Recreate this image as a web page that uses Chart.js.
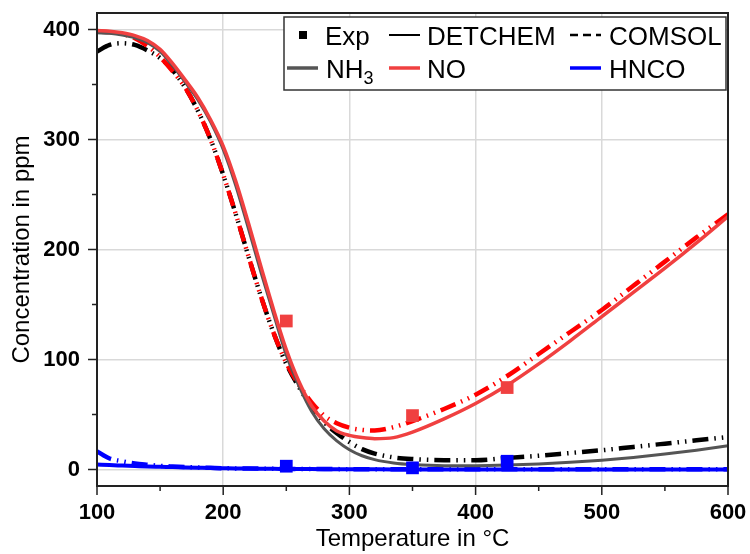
<!DOCTYPE html>
<html>
<head>
<meta charset="utf-8">
<script src="https://cdn.jsdelivr.net/npm/chart.js@4.4.0/dist/chart.umd.min.js"></script>
<style>
  body { margin: 0; background: #fff; }
</style>
</head>
<body>
<canvas id="chart" width="750" height="554"></canvas>
<script>
// Temperature grid of the simulated curves (°C)
const simTemps = [100, 110, 120, 130, 140, 150, 160, 170, 180, 190, 200, 210, 220, 230, 240, 250, 260, 270, 280, 290,
    300, 310, 320, 335, 350, 375, 400, 425, 450, 475, 500, 525, 550, 575, 600];

// DETCHEM (solid lines), ppm
const nh3Detchem = [397, 396.5, 395, 392.5, 388, 380, 367, 352, 336, 316, 291, 258, 219, 179, 141, 104, 76, 53, 37, 26,
    18, 12.5, 9, 6, 4.5, 3.5, 3.5, 4, 5, 6.5, 8.5, 11, 14, 17.5, 21.5];
const noDetchem = [399, 398.5, 397, 394.5, 390, 382, 369, 354, 338, 318, 294, 262, 224, 184, 145, 109, 80, 58, 44, 35,
    31, 29, 28, 29, 34, 46, 60, 76.5, 96, 117, 139, 161, 183, 206, 230];
const hncoDetchem = [4.5, 4, 3.6, 3.2, 2.8, 2.5, 2.2, 1.9, 1.6, 1.3, 1.1, 0.9, 0.8, 0.7, 0.6, 0.5, 0.4, 0.35, 0.3, 0.25,
    0.2, 0.2, 0.15, 0.1, 0.1, 0.1, 0.1, 0.1, 0.1, 0.1, 0.1, 0.1, 0.1, 0.1, 0.1];

// COMSOL (dashed lines), ppm
const nh3Comsol = [380, 386, 387.5, 386, 381, 374, 363, 347, 326, 300, 268, 232, 194, 157, 124, 96, 75, 57, 43, 33,
    25, 18.5, 14.5, 11, 9.5, 8.5, 8.5, 10.5, 12.5, 15, 17.5, 20.5, 23.5, 26.5, 29.5];
const noComsol = [398, 397.5, 396, 392, 385, 375, 362, 347, 326, 300, 268, 232, 194, 157, 124, 97, 77, 61, 49, 42,
    38, 36, 35.5, 38.5, 44, 55, 68, 85, 105, 125, 145, 167, 189, 211, 232];
const hncoComsol = [16.5, 10, 7.5, 5.5, 4.3, 3.3, 2.7, 2.2, 1.8, 1.5, 1.2, 1, 0.9, 0.8, 0.7, 0.6, 0.5, 0.45, 0.4, 0.35,
    0.3, 0.3, 0.25, 0.2, 0.2, 0.2, 0.2, 0.2, 0.2, 0.2, 0.2, 0.2, 0.2, 0.2, 0.2];

// Experimental points
const expTemps = [250, 350, 425];
const expNO = [135, 49, 74.5];
const expHNCO = [3, 1.5, 7.5];

// Axis ticks
const xTicks = [100, 200, 300, 400, 500, 600];
const xMinorTicks = [150, 250, 350, 450, 550];
const yTicks = [0, 100, 200, 300, 400];
const yMinorTicks = [50, 150, 250, 350];

const FONT = '"Liberation Sans", Arial, sans-serif';
const COMSOL_DASH = [16, 6, 1.5, 6, 1.5, 6];

const colors = {
    nh3: '#555555',
    no: 'rgb(240, 64, 64)',
    noDash: '#ff0000',
    hnco: '#0000ff',
    black: '#000000'
};

function toPoints(xs, ys) {
    return xs.map((x, i) => ({ x: x, y: ys[i] }));
}

function lineSet(label, values, color, width, dash) {
    return {
        label: label,
        data: toPoints(simTemps, values),
        borderColor: color,
        borderWidth: width,
        borderDash: dash || [],
        pointRadius: 0,
        cubicInterpolationMode: 'monotone',
        fill: false
    };
}

function expSet(label, values, color) {
    return {
        label: label,
        data: toPoints(expTemps, values),
        showLine: false,
        pointStyle: 'rect',
        pointRadius: 9,
        pointBackgroundColor: color,
        pointBorderWidth: 0
    };
}

// keep the plot box where the reference has it (no extra room for edge labels)
function noEdgePadding(s) {
    s.paddingTop = 0;
    s.paddingBottom = 0;
    s.paddingLeft = 0;
    s.paddingRight = 0;
}

// Frame, minor/major ticks and the two-row legend
const decorPlugin = {
    id: 'decor',
    afterDraw(chart) {
        const ctx = chart.ctx;
        const area = chart.chartArea;
        const xs = chart.scales.x;
        const ys = chart.scales.y;
        ctx.save();

        // ticks
        ctx.strokeStyle = '#222';
        ctx.lineWidth = 1.5;
        ctx.beginPath();
        xTicks.forEach(v => { const p = xs.getPixelForValue(v); ctx.moveTo(p, area.bottom); ctx.lineTo(p, area.bottom + 9); });
        xMinorTicks.forEach(v => { const p = xs.getPixelForValue(v); ctx.moveTo(p, area.bottom); ctx.lineTo(p, area.bottom + 5); });
        yTicks.forEach(v => { const p = ys.getPixelForValue(v); ctx.moveTo(area.left, p); ctx.lineTo(area.left - 9, p); });
        yMinorTicks.forEach(v => { const p = ys.getPixelForValue(v); ctx.moveTo(area.left, p); ctx.lineTo(area.left - 5, p); });
        ctx.stroke();

        // frame
        ctx.lineWidth = 2;
        ctx.strokeRect(area.left, area.top, area.right - area.left, area.bottom - area.top);

        // legend box
        const bw = 442, bh = 73;
        const bx = area.right - 2 - bw;
        const by = area.top + 4;
        ctx.fillStyle = '#fff';
        ctx.fillRect(bx, by, bw, bh);
        ctx.strokeStyle = '#333';
        ctx.lineWidth = 1.5;
        ctx.strokeRect(bx, by, bw, bh);

        const r1 = by + 18, r2 = by + 51;
        const sample = (x0, y, color, width, dash) => {
            ctx.beginPath();
            ctx.setLineDash(dash || []);
            ctx.strokeStyle = color;
            ctx.lineWidth = width;
            ctx.moveTo(bx + x0, y);
            ctx.lineTo(bx + x0 + 31, y);
            ctx.stroke();
            ctx.setLineDash([]);
        };

        ctx.fillStyle = '#000';
        ctx.fillRect(bx + 15, r1 - 4, 8, 8);
        sample(105, r1, colors.black, 2);
        sample(286, r1, colors.black, 2.5, [8, 5]);
        sample(3, r2, colors.nh3, 3.5);
        sample(105, r2, colors.no, 3.5);
        sample(286, r2, colors.hnco, 3.5);

        ctx.fillStyle = '#000';
        ctx.textBaseline = 'alphabetic';
        ctx.textAlign = 'left';
        ctx.font = '26px ' + FONT;
        ctx.fillText('Exp', bx + 41, r1 + 10);
        ctx.fillText('DETCHEM', bx + 143, r1 + 10);
        ctx.fillText('COMSOL', bx + 325, r1 + 10);
        ctx.fillText('NH', bx + 42, r2 + 10);
        const nhW = ctx.measureText('NH').width;
        ctx.fillText('NO', bx + 143, r2 + 10);
        ctx.fillText('HNCO', bx + 325, r2 + 10);
        ctx.font = '18px ' + FONT;
        ctx.fillText('3', bx + 42 + nhW, r2 + 16);

        ctx.restore();
    }
};

const tickFont = { family: FONT, size: 22, weight: 'bold' };
const titleFont = { family: FONT, size: 24 };

new Chart(document.getElementById('chart').getContext('2d'), {
    type: 'line',
    data: {
        datasets: [
            expSet('Exp NO', expNO, colors.no),
            expSet('Exp HNCO', expHNCO, colors.hnco),
            lineSet('NO DETCHEM', noDetchem, colors.no, 3.5),
            lineSet('NH3 DETCHEM', nh3Detchem, colors.nh3, 3),
            lineSet('HNCO DETCHEM', hncoDetchem, colors.hnco, 4),
            lineSet('NO COMSOL', noComsol, colors.noDash, 4.5, COMSOL_DASH),
            lineSet('NH3 COMSOL', nh3Comsol, colors.black, 4.5, COMSOL_DASH),
            lineSet('HNCO COMSOL', hncoComsol, colors.hnco, 4.5, COMSOL_DASH)
        ]
    },
    options: {
        responsive: false,
        animation: false,
        layout: { padding: { top: 13, right: 22, left: 0, bottom: 0 } },
        plugins: {
            legend: { display: false },
            tooltip: { enabled: false }
        },
        scales: {
            x: {
                type: 'linear',
                min: 100,
                max: 600,
                afterBuildTicks: s => { s.ticks = xTicks.map(v => ({ value: v })); },
                afterFit: s => { s.height = 68; noEdgePadding(s); },
                grid: { color: '#d9d9d9', lineWidth: 1.5, drawTicks: false },
                border: { display: false },
                ticks: { font: tickFont, color: '#000', padding: 14, maxRotation: 0 },
                title: { display: true, text: 'Temperature in °C', font: titleFont, color: '#000', padding: { top: 0, bottom: 0 } }
            },
            y: {
                min: -15,
                max: 415,
                afterBuildTicks: s => { s.ticks = yTicks.map(v => ({ value: v })); },
                afterFit: s => { s.width = 97; noEdgePadding(s); },
                grid: { color: '#d9d9d9', lineWidth: 1.5, drawTicks: false },
                border: { display: false },
                ticks: { font: tickFont, color: '#000', padding: 17 },
                title: { display: true, text: 'Concentration in ppm', font: titleFont, color: '#000', padding: { top: 8, bottom: 0 } }
            }
        }
    },
    plugins: [decorPlugin]
});
</script>
</body>
</html>
